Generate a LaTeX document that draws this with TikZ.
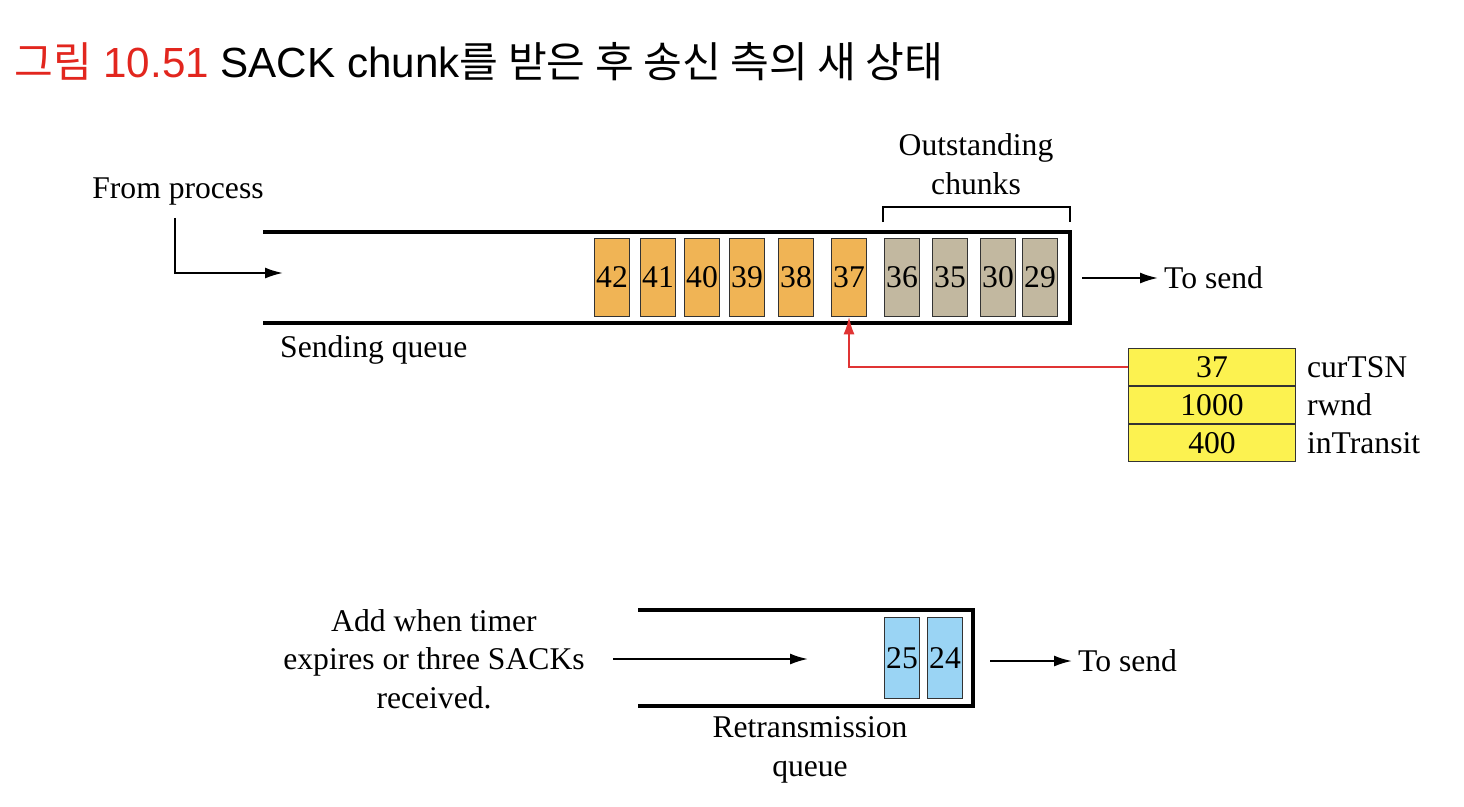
\documentclass[tikz,border=0pt]{standalone}
\usepackage{fontspec}
\setmainfont{Liberation Serif}
\setsansfont{Liberation Sans}
\newfontfamily\krfont{Noto Sans CJK KR}
\usepackage{xcolor}
\usepackage{tikz}
\usetikzlibrary{arrows.meta,positioning,calc}
\definecolor{orangechunk}{RGB}{240,180,85}
\definecolor{graychunk}{RGB}{194,184,160}
\definecolor{bluechunk}{RGB}{154,212,244}
\definecolor{yellowcell}{RGB}{252,242,80}
\definecolor{titlered}{RGB}{226,38,30}
\definecolor{pointred}{RGB}{224,52,52}

\begin{document}
\begin{tikzpicture}[x=0.02cm,y=-0.02cm,>={Latex[length=0.36cm,width=0.22cm]},every node/.style={font=\fontsize{18}{22}\selectfont},
chunkbox/.style={draw=black!80,minimum width=0.7cm,minimum height=1.56cm,inner sep=0pt},
tablecell/.style={draw=black!80,fill=yellowcell,minimum width=3.34cm,minimum height=0.745cm,inner sep=0pt},
qline/.style={line width=2pt},flow/.style={->,line width=1.1pt}]
\useasboundingbox (0,0) rectangle (1464,806);
\node[anchor=west,font=\sffamily\fontsize{24}{28}\selectfont](title) at (8,62){\textcolor{titlered}{{\krfont 그림} 10.51} SACK chunk{\krfont 를 받은 후 송신 측의 새 상태}};
\draw[qline](263,232)--(1070,232)--(1070,323)--(263,323);
\foreach \n/\x in {42/612,41/658,40/702,39/747,38/796,37/849}
  \node[chunkbox,fill=orangechunk](c\n) at (\x,277){\n};
\foreach \n/\x in {36/902,35/950,30/998,29/1040}
  \node[chunkbox,fill=graychunk](c\n) at (\x,277){\n};
\draw[line width=0.9pt](883,222)--(883,207)--(1070,207)--(1070,222);
\node[align=center](outst) at (976,164){Outstanding\\chunks};
\node(from) at (178,192){From process};
\coordinate(qin) at (283,273);
\draw[flow]([xshift=-0.06cm,yshift=-0.12cm]from.south)|-(qin);
\coordinate(qout) at (1082,278);
\node[anchor=west](send1) at (1158,278){To send};
\draw[flow](qout)--(send1.west);
\node[anchor=west](sendq) at (274,350){Sending queue};
\node[tablecell](tsn) at (1212,367){37};
\node[tablecell,below=0pt of tsn](rwnd){1000};
\node[tablecell,below=0pt of rwnd](transit){400};
\node[right=0.1cm of tsn](tsnlbl){curTSN};
\node[right=0.1cm of rwnd](rwndlbl){rwnd};
\node[right=0.1cm of transit](transitlbl){inTransit};
\draw[->,pointred,line width=1.4pt](tsn.west)-|(c37.south);
\draw[qline](638,610)--(973,610)--(973,706)--(638,706);
\node[chunkbox,fill=bluechunk,minimum height=1.62cm](c25) at (902,658){25};
\node[chunkbox,fill=bluechunk,minimum height=1.62cm](c24) at (945,658){24};
\node[align=center](addtxt) at (434,659){Add when timer\\expires or three SACKs\\received.};
\coordinate(retin) at (808,659);
\draw[flow,shorten <=0.45cm](addtxt)--(retin);
\coordinate(retout) at (990,661);
\node[anchor=west](send2) at (1072,661){To send};
\draw[flow](retout)--(send2.west);
\node[align=center](retq) at (810,750){Retransmission\\queue};
\end{tikzpicture}
\end{document}
